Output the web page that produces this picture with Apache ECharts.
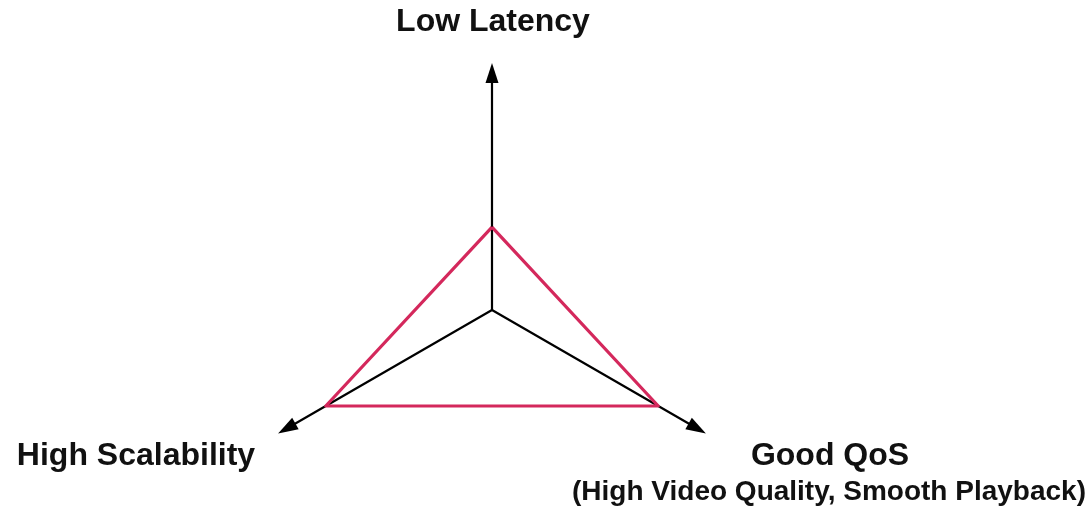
<!DOCTYPE html>
<html lang="en">
<head>
    <meta http-equiv="Content-Type" content="text/html; charset=UTF-8">
    <title>Latency / Scalability / QoS trade-off</title>
    <script type="text/javascript" src="https://cdn.jsdelivr.net/npm/echarts@6/dist/echarts.min.js"></script>
    <style>
        html, body { margin: 0; padding: 0; background: #fff; }
    </style>
</head>
<body>
    <div id="main" style="width:1090px;height:507px;"></div>

    <script type="text/javascript">
        // three corners of the trade-off, top then clockwise from lower left
        var axisNames = ['Low Latency', 'High Scalability', 'Good QoS'];
        var axisMax = [100, 100, 100];
        // where the red triangle touches each axis
        var tradeOff = [35, 81, 81];

        var myChart = echarts.init(document.getElementById('main'));

        var font = 'Liberation Sans, Arial, sans-serif';
        var bigText = { fontFamily: font, fontWeight: 'bold', fontSize: 32, color: '#111' };
        var smallText = { fontFamily: font, fontWeight: 'bold', fontSize: 28, color: '#111' };

        myChart.setOption({
            backgroundColor: '#fff',
            animation: false,
            title: [
                { text: axisNames[0], left: 493, top: 6, textAlign: 'center', padding: 0, textStyle: bigText },
                { text: axisNames[1], left: 136, top: 440, textAlign: 'center', padding: 0, textStyle: bigText },
                { text: axisNames[2], left: 830, top: 440, textAlign: 'center', padding: 0, textStyle: bigText },
                { text: '(High Video Quality, Smooth Playback)', left: 829, top: 478, textAlign: 'center', padding: 0, textStyle: smallText }
            ],
            radar: {
                center: [492, 310],
                radius: 237,
                startAngle: 90,
                shape: 'polygon',
                indicator: axisNames.map(function (n, i) {
                    return { name: n, max: axisMax[i], min: 0 };
                }),
                axisName: { show: false },
                splitNumber: 1,
                splitLine: { show: false },
                splitArea: { show: false },
                axisTick: { show: false },
                axisLabel: { show: false },
                axisLine: {
                    show: true,
                    symbol: ['none', 'triangle'],
                    symbolSize: [13, 20],
                    lineStyle: { color: '#000', width: 2.2 }
                }
            },
            series: [{
                type: 'radar',
                symbol: 'none',
                lineStyle: { color: '#d4285c', width: 3.2 },
                itemStyle: { color: '#d4285c' },
                data: [{ value: tradeOff, name: 'trade-off' }]
            }]
        });
    </script>
</body>
</html>
